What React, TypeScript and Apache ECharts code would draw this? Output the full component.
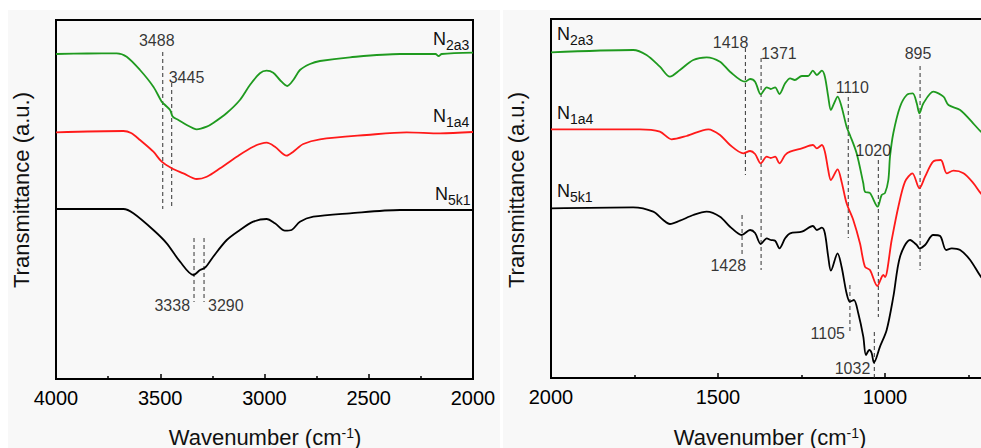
import React, { useEffect, useRef } from "react";
import * as echarts from "echarts";

// ---------- data (wavenumber in cm-1, transmittance in a.u.) ----------
// High-wavenumber panel (4000-2000)
const n2a3HighWn = [4000, 3850, 3709, 3661, 3597, 3533, 3493, 3477, 3453, 3440, 3413, 3373, 3341, 3325, 3277, 3246, 3181, 3118, 3070, 3022, 2990, 2958, 2926, 2891, 2862, 2830, 2782, 2734, 2590, 2350, 2180, 2165, 2150, 2000];
const n2a3HighT = [325, 325.5, 325.7, 322.3, 309, 292.3, 277.3, 274, 269, 262.3, 259, 254, 250.7, 249.7, 252.3, 256, 266, 279, 294, 305.7, 308.3, 306.3, 299, 293, 299, 309, 315, 318, 321.7, 325, 325, 323, 325, 326.3];

const n1a4HighWn = [4000, 3677, 3640, 3597, 3533, 3493, 3445, 3389, 3325, 3277, 3213, 3133, 3054, 2990, 2950, 2894, 2862, 2814, 2734, 2510, 2318, 2158, 2000];
const n1a4HighT = [246.7, 248, 246, 239, 227.3, 217.3, 210.7, 205.7, 200, 202.3, 210.7, 222.3, 232.3, 236.3, 232.3, 223.3, 227.3, 235, 239.7, 244, 246.7, 245.7, 247];

const n5k1HighWn = [4000, 3677, 3629, 3533, 3469, 3405, 3341, 3309, 3285, 3246, 3181, 3118, 3054, 2990, 2950, 2902, 2870, 2830, 2766, 2590, 2350, 2000];
const n5k1HighT = [170, 170, 165.7, 149, 135.7, 117.3, 104, 109, 111.3, 122.3, 139, 149, 157.3, 160, 155.7, 148.3, 149, 157.3, 162.3, 165.7, 169, 169];

// Fingerprint panel (2000-700)
const n2a3LowWn = [2000, 1754, 1714, 1674, 1644, 1614, 1574, 1534, 1494, 1464, 1419, 1404, 1389, 1372, 1354, 1342, 1329, 1316, 1299, 1284, 1270, 1249, 1230, 1216, 1204, 1189, 1180, 1170, 1162, 1152, 1142, 1130, 1115, 1105, 1085, 1065, 1060, 1045, 1022, 1010, 1000, 990, 985, 975, 955, 935, 917, 905, 897, 885, 855, 825, 810, 775, 736, 713, 690];
const n2a3LowT = [325.7, 328, 323, 311.3, 301.3, 308, 318, 320.7, 316.3, 306.3, 296.3, 299, 296.3, 283.7, 290.7, 289, 290.7, 284, 294.7, 299.7, 298, 302, 302, 307.3, 303, 307.3, 301.3, 281.3, 268, 275, 281.3, 271.3, 251.3, 243, 224.7, 194.7, 186.3, 185, 171.3, 183, 185, 198, 221.3, 245, 271.3, 283, 284.7, 274.7, 264.7, 274.7, 286.3, 281.3, 273, 268, 254.7, 246.3, 240];

const n1a4LowWn = [2000, 1734, 1674, 1639, 1594, 1529, 1494, 1464, 1424, 1404, 1389, 1372, 1354, 1342, 1329, 1316, 1299, 1284, 1249, 1216, 1204, 1189, 1180, 1170, 1162, 1142, 1130, 1115, 1095, 1075, 1060, 1045, 1023, 1005, 1000, 980, 960, 940, 918, 897, 880, 856, 833, 815, 795, 765, 735, 713, 690];
const n1a4LowT = [248.7, 248.7, 246.3, 238.7, 242, 248.7, 243, 233, 224.7, 227, 224, 214.7, 221.3, 220, 221.3, 214.7, 223, 226.3, 229.7, 233, 229.7, 233, 226.3, 208, 198, 208.7, 196.3, 174.7, 158, 134.7, 111.3, 108, 92, 103, 101, 138, 171.3, 196.3, 204.7, 189.7, 201.3, 216.3, 218, 204.7, 207.3, 204.7, 194.7, 184.7, 178];

const n5k1LowWn = [2000, 1754, 1694, 1664, 1644, 1614, 1574, 1534, 1494, 1464, 1429, 1404, 1389, 1372, 1354, 1342, 1329, 1316, 1299, 1284, 1249, 1216, 1204, 1189, 1180, 1170, 1162, 1142, 1130, 1115, 1105, 1093, 1080, 1065, 1057, 1047, 1040, 1033, 1015, 995, 975, 955, 925, 905, 897, 880, 856, 835, 817, 800, 775, 745, 713, 690];
const n5k1LowT = [169.7, 170.7, 166.3, 158, 154, 157.3, 163, 166.3, 161.3, 151.3, 143, 148, 145, 134, 139.7, 138, 137.3, 129.7, 139.7, 144.7, 146.3, 152, 148, 150.3, 144.7, 121.3, 107.3, 124.7, 111.3, 84.7, 76.3, 78, 64.7, 41.3, 23, 28, 25, 15.3, 31.3, 48, 81.3, 121.3, 138, 133, 129.7, 133, 143, 142, 128, 129.7, 128, 118, 101.3, 93];

// Peak markers (dashed lines)
const highPeaks = [3488, 3445, 3338, 3290];
const highPeakTop = [327, 296, 141, 141];
const highPeakBottom = [170, 170, 77, 77];

const lowPeaks = [1418, 1371, 1110, 1020, 895, 1428, 1105, 1032];
const lowPeakTop = [330, 320, 281, 218, 312, 163, 93, 46];
const lowPeakBottom = [203, 108, 140, 61, 108, 123, 45, 0];

const highTicks = { min: 2000, max: 4000, interval: 500 };
const lowTicks = { min: 500, max: 2000, interval: 500 };

// ---------- layout / style ----------
const FONT = '"Liberation Sans", Arial, Helvetica, sans-serif';
const GREEN = "#1f9a1f";
const RED = "#ff1a1a";
const BLACK = "#000000";

// label layout for peak markers: which end of the dashed line, pixel offset, alignment
const highPeakLayout = [
  { end: "top", dx: -6, dy: -12, align: "center" },
  { end: "top", dx: -3, dy: -6, align: "left" },
  { end: "bottom", dx: -4, dy: 3, align: "right" },
  { end: "bottom", dx: 4, dy: 3, align: "left" },
];
const lowPeakLayout = [
  { end: "top", dx: 3, dy: -6, align: "right" },
  { end: "top", dx: 0, dy: -5, align: "left" },
  { end: "top", dx: 4, dy: -10, align: "center" },
  { end: "top", dx: -5, dy: -10, align: "center" },
  { end: "top", dx: -2, dy: -13, align: "center" },
  { end: "bottom", dx: 4, dy: 10, align: "right" },
  { end: "bottom", dx: -5, dy: 0, align: "right" },
  { end: "bottom", dx: -4, dy: -10, align: "right" },
];

const zip = (xs: number[], ys: number[]) => xs.map((x, i) => [x, ys[i]]);

function spectrum(name: string, idx: number, xs: number[], ys: number[], color: string) {
  return {
    type: "line",
    name,
    xAxisIndex: idx,
    yAxisIndex: idx,
    data: zip(xs, ys),
    showSymbol: false,
    symbol: "none",
    smooth: 0.3,
    lineStyle: { color, width: 1.8 },
    z: 3,
  };
}

function peakLines(idx: number, peaks: number[], tops: number[], bottoms: number[]) {
  return peaks.map((w, i) => ({
    type: "line",
    xAxisIndex: idx,
    yAxisIndex: idx,
    data: [
      [w, tops[i]],
      [w, bottoms[i]],
    ],
    symbol: "none",
    lineStyle: { color: "#333", width: 1, type: [4, 3] },
    z: 2,
  }));
}

function peakLabels(idx: number, peaks: number[], tops: number[], bottoms: number[], layout: any[]) {
  return {
    type: "scatter",
    xAxisIndex: idx,
    yAxisIndex: idx,
    symbolSize: 1,
    itemStyle: { color: "rgba(0,0,0,0)" },
    z: 4,
    data: peaks.map((w, i) => ({
      name: String(w),
      value: [w, layout[i].end === "top" ? tops[i] : bottoms[i]],
      label: {
        show: true,
        position: "inside",
        offset: [layout[i].dx, layout[i].dy],
        align: layout[i].align,
        verticalAlign: "middle",
      },
    })),
    label: {
      show: true,
      formatter: (p: any) => p.name,
      fontFamily: FONT,
      fontSize: 16,
      color: "#000",
    },
  };
}

function xAxis(idx: number, t: { min: number; max: number; interval: number }, hideMin: boolean) {
  return {
    type: "value",
    gridIndex: idx,
    inverse: true,
    min: t.min,
    max: t.max,
    interval: t.interval,
    axisLine: { show: true, onZero: false, lineStyle: { color: "#000", width: 2 } },
    axisTick: { show: true, inside: true, length: 5, lineStyle: { color: "#000", width: 1.5 } },
    minorTick: { show: true, splitNumber: 2, length: 3, lineStyle: { color: "#000", width: 1.5 } },
    splitLine: { show: false },
    axisLabel: {
      fontFamily: FONT,
      fontSize: 20,
      color: "#000",
      margin: 9,
      showMinLabel: !hideMin,
      formatter: (v: number) => String(v),
    },
  };
}

function yAxis(idx: number) {
  return {
    type: "value",
    gridIndex: idx,
    min: 0,
    max: 359,
    show: false,
  };
}

function sampleLabel(n: string, sub: string, x: number, y: number) {
  return [
    {
      type: "text",
      x,
      y,
      style: { text: n, font: `18px ${FONT}`, fill: "#111", align: "left", verticalAlign: "middle" },
    },
    {
      type: "text",
      x: x + 13,
      y: y + 6,
      style: { text: sub, font: `14px ${FONT}`, fill: "#111", align: "left", verticalAlign: "middle" },
    },
  ];
}

function axisTitle(x: number, y: number) {
  return {
    type: "text",
    x,
    y,
    style: {
      text: "Wavenumber (cm{sup|-1})",
      font: `22px ${FONT}`,
      fill: "#111",
      align: "center",
      verticalAlign: "middle",
      rich: {
        sup: { fontSize: 14, fontFamily: FONT, verticalAlign: "top", fill: "#111" },
      },
    },
  };
}

function yTitle(x: number, y: number) {
  return {
    type: "text",
    x,
    y,
    rotation: Math.PI / 2,
    style: {
      text: "Transmittance (a.u.)",
      font: `22px ${FONT}`,
      fill: "#111",
      align: "center",
      verticalAlign: "middle",
    },
  };
}

export default function App() {
  const ref = useRef<HTMLDivElement>(null);

  useEffect(() => {
    if (!ref.current) return;
    const chart = echarts.init(ref.current, undefined, { renderer: "svg" });
    const option: any = {
      animation: false,
      backgroundColor: "#ffffff",
      grid: [
        { left: 56, top: 20, width: 417, height: 359, show: true, borderColor: "#000", borderWidth: 2, backgroundColor: "transparent" },
        { left: 551, top: 19, width: 501, height: 359, show: true, borderColor: "#000", borderWidth: 2, backgroundColor: "transparent" },
      ],
      xAxis: [xAxis(0, highTicks, false), xAxis(1, lowTicks, true)],
      yAxis: [yAxis(0), yAxis(1)],
      series: [
        spectrum("N2a3", 0, n2a3HighWn, n2a3HighT, GREEN),
        spectrum("N1a4", 0, n1a4HighWn, n1a4HighT, RED),
        spectrum("N5k1", 0, n5k1HighWn, n5k1HighT, BLACK),
        spectrum("N2a3", 1, n2a3LowWn, n2a3LowT, GREEN),
        spectrum("N1a4", 1, n1a4LowWn, n1a4LowT, RED),
        spectrum("N5k1", 1, n5k1LowWn, n5k1LowT, BLACK),
        ...peakLines(0, highPeaks, highPeakTop, highPeakBottom),
        ...peakLines(1, lowPeaks, lowPeakTop, lowPeakBottom),
        peakLabels(0, highPeaks, highPeakTop, highPeakBottom, highPeakLayout),
        peakLabels(1, lowPeaks, lowPeakTop, lowPeakBottom, lowPeakLayout),
      ],
      graphic: [
        { type: "rect", z: -100, shape: { x: 8, y: 10, width: 492, height: 438 }, style: { fill: "#f8f8f8" } },
        { type: "rect", z: -100, shape: { x: 503, y: 10, width: 478, height: 438 }, style: { fill: "#f8f8f8" } },
        ...sampleLabel("N", "2a3", 433, 39),
        ...sampleLabel("N", "1a4", 433, 116),
        ...sampleLabel("N", "5k1", 435, 194),
        ...sampleLabel("N", "2a3", 557, 34),
        ...sampleLabel("N", "1a4", 557, 113),
        ...sampleLabel("N", "5k1", 557, 191),
        axisTitle(265, 437),
        axisTitle(770, 437),
        yTitle(21, 190),
        yTitle(516, 190),
      ],
    };
    chart.setOption(option);
    return () => chart.dispose();
  }, []);

  return (
    <div style={{ position: "fixed", left: 0, top: 0, width: 981, height: 448, overflow: "hidden", background: "#fff" }}>
      <div ref={ref} style={{ width: 1100, height: 448 }} />
    </div>
  );
}
